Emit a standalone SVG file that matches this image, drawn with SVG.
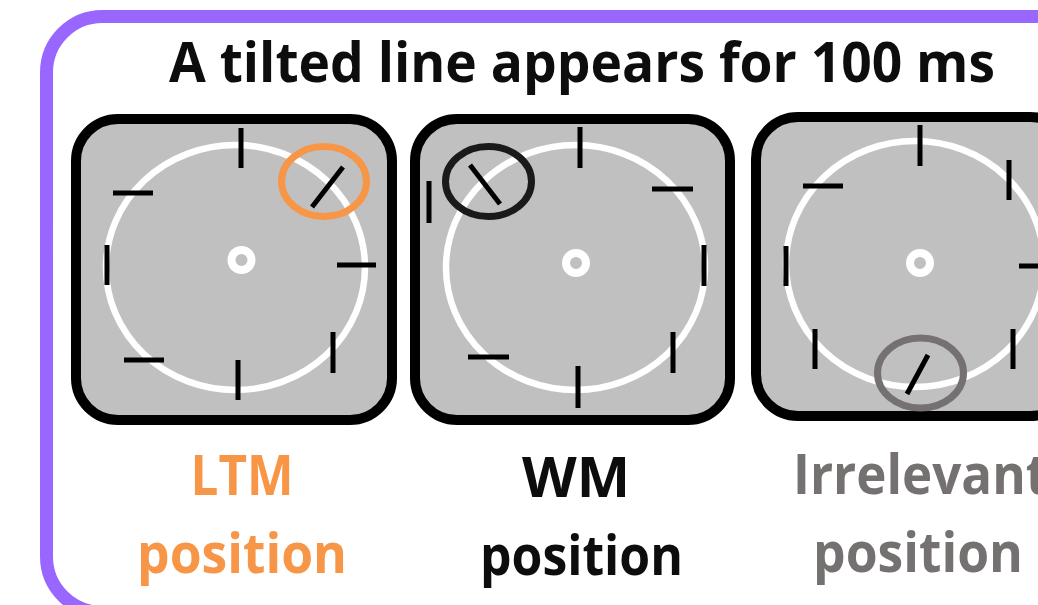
<svg xmlns="http://www.w3.org/2000/svg" width="1038" height="605" viewBox="0 0 1038 605">
  <style>
    .panel { fill: #c0c0c0; stroke: #000; stroke-width: 10; }
    .track { fill: none; stroke: #fff; stroke-width: 6.5; }
    .fix { fill: none; stroke: #fff; stroke-width: 8; }
    .tick { stroke: #000; stroke-width: 5; fill: none; }
    .hl { fill: none; stroke-width: 7; }
    .lbl { font-family: "Open Sans", Lato, "Liberation Sans", sans-serif; font-weight: bold; font-size: 55px; text-anchor: middle; }
  </style>
  <rect width="1038" height="605" fill="#fff"/>
  <g id="frame">
    <rect x="46.5" y="16.5" width="1060" height="596" rx="56" ry="56" fill="none" stroke="#9966ff" stroke-width="13"/>
    <text x="582" y="82" class="lbl" fill="#0d0d0d" font-size="56" textLength="826" lengthAdjust="spacingAndGlyphs">A tilted line appears for 100 ms</text>
  </g>
  <g id="panel-ltm">
    <rect class="panel" x="76" y="119" width="316" height="301" rx="42" ry="42"/>
    <ellipse class="track" cx="235.5" cy="267.5" rx="129.5" ry="122.5"/>
    <circle class="fix" cx="241.5" cy="260" r="10"/>
    <line class="tick" x1="241" y1="128" x2="241" y2="168"/>
    <line class="tick" x1="113" y1="193" x2="153" y2="193"/>
    <line class="tick" x1="107" y1="245" x2="107" y2="285"/>
    <line class="tick" x1="337" y1="265" x2="376" y2="265"/>
    <line class="tick" x1="333" y1="332" x2="333" y2="373"/>
    <line class="tick" x1="238" y1="360" x2="238" y2="400"/>
    <line class="tick" x1="124" y1="360" x2="164" y2="360"/>
    <line class="tick" x1="343" y1="167" x2="312" y2="207"/>
    <ellipse class="hl" stroke="#f79646" cx="324" cy="181.5" rx="42.5" ry="35"/>
    <text class="lbl" x="242" y="495" fill="#f79646" textLength="103" lengthAdjust="spacingAndGlyphs">LTM</text>
    <text class="lbl" x="242" y="573" fill="#f79646" textLength="210" lengthAdjust="spacingAndGlyphs">position</text>
  </g>
  <g id="panel-wm">
    <rect class="panel" x="415" y="119" width="315" height="301" rx="42" ry="42"/>
    <ellipse class="track" cx="575.5" cy="267.5" rx="129.5" ry="122.5"/>
    <circle class="fix" cx="576" cy="263" r="10"/>
    <line class="tick" x1="580" y1="127" x2="580" y2="168"/>
    <line class="tick" x1="652" y1="189" x2="693" y2="189"/>
    <line class="tick" x1="704" y1="245" x2="704" y2="286"/>
    <line class="tick" x1="673" y1="332" x2="673" y2="373"/>
    <line class="tick" x1="578" y1="366" x2="578" y2="408"/>
    <line class="tick" x1="468" y1="357" x2="509" y2="357"/>
    <line class="tick" x1="429" y1="181" x2="429" y2="223"/>
    <line class="tick" x1="470" y1="165" x2="500" y2="204"/>
    <ellipse class="hl" stroke="#1a1a1a" cx="488.5" cy="181.5" rx="43" ry="35"/>
    <text class="lbl" x="576" y="497" fill="#0d0d0d" textLength="108" lengthAdjust="spacingAndGlyphs">WM</text>
    <text class="lbl" x="581.5" y="575" fill="#0d0d0d" textLength="203" lengthAdjust="spacingAndGlyphs">position</text>
  </g>
  <g id="panel-irrelevant">
    <rect class="panel" x="756" y="117" width="316" height="299" rx="42" ry="42"/>
    <ellipse class="track" cx="915" cy="264" rx="129" ry="123"/>
    <circle class="fix" cx="920" cy="263" r="10"/>
    <line class="tick" x1="920" y1="125" x2="920" y2="166"/>
    <line class="tick" x1="1009" y1="160" x2="1009" y2="200"/>
    <line class="tick" x1="1019" y1="266" x2="1060" y2="266"/>
    <line class="tick" x1="1013" y1="329" x2="1013" y2="369"/>
    <line class="tick" x1="928" y1="355" x2="907" y2="394"/>
    <line class="tick" x1="815" y1="329" x2="815" y2="369"/>
    <line class="tick" x1="786" y1="246" x2="786" y2="286"/>
    <line class="tick" x1="803" y1="186" x2="843" y2="186"/>
    <ellipse class="hl" stroke="#767171" cx="920.5" cy="373" rx="43" ry="35"/>
    <text class="lbl" x="793" y="494" fill="#767171" style="text-anchor:start" textLength="255" lengthAdjust="spacingAndGlyphs">Irrelevant</text>
    <text class="lbl" x="918" y="572" fill="#767171" textLength="210" lengthAdjust="spacingAndGlyphs">position</text>
  </g>
  <g id="connectors"></g>
</svg>
